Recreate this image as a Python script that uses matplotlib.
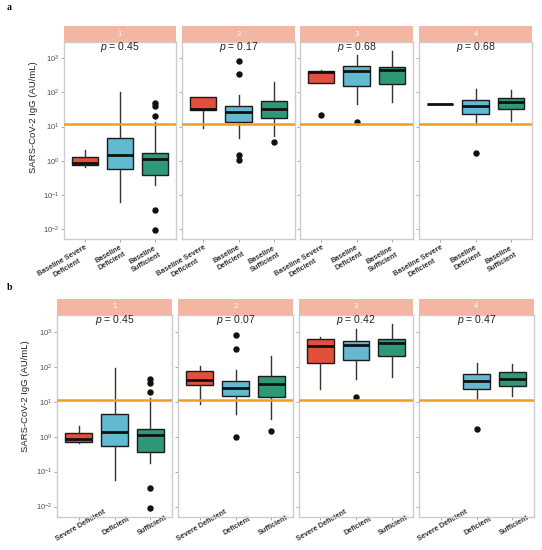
import matplotlib
matplotlib.use("Agg")
import matplotlib.pyplot as plt
from matplotlib.ticker import LogLocator, LogFormatterSciNotation, NullLocator

plt.rcParams["font.family"] = ["Liberation Sans", "DejaVu Sans"]
plt.rcParams["mathtext.fontset"] = "custom"
plt.rcParams["mathtext.rm"] = "Liberation Sans"
plt.rcParams["mathtext.it"] = "Liberation Sans:italic"
plt.rcParams["mathtext.bf"] = "Liberation Sans:bold"

# ---------------- data ----------------
facets = ["1", "2", "3", "4"]
groups_a = ["Baseline Severe\nDeficient", "Baseline\nDeficient", "Baseline\nSufficient"]
groups_b = ["Severe Deficient", "Deficient", "Sufficient"]
p_a = ["0.45", "0.17", "0.68", "0.68"]
p_b = ["0.45", "0.07", "0.42", "0.47"]
cutoff = 11.5

# panel a stats: [facet][group] -> (whislo, q1, med, q3, whishi)
a_stats = [
    [(0.65, 0.72, 0.85, 1.3, 2.0), (0.062, 0.56, 1.44, 4.6, 100), (0.19, 0.37, 1.15, 1.72, 13.5)],
    [(9.0, 29.6, 32, 72, 76), (4.7, 13.5, 26, 41, 83), (5.1, 18, 33, 58, 205)],
    [(190, 190, 400, 417, 457), (46, 158, 426, 583, 1220), (52, 182, 445, 570, 1640)],
    [(46, 46, 46, 46, 46), (12, 23, 40, 62, 124), (15, 31.6, 52, 71, 121)],
]
a_fliers = [
    [[], [], [48, 40, 20.5, 0.036, 0.0095]],
    [[], [860, 345, 1.5, 1.02], [3.4]],
    [[22.5], [13.7], []],
    [[], [1.63], []],
]
# panel b stats
b_stats = [
    [(0.66, 0.70, 0.84, 1.27, 2.0), (0.059, 0.54, 1.38, 4.35, 95), (0.18, 0.36, 1.13, 1.65, 12.8)],
    [(8.8, 29.5, 43, 74.5, 106), (4.35, 14.6, 25, 38.5, 80), (3.1, 13.7, 31, 53.5, 200)],
    [(22.7, 129, 380, 617, 687), (46, 157, 406, 552, 1166), (51, 205, 473, 630, 1660)],
    [None, (12.2, 23, 40, 62, 124), (14.6, 29, 45, 70, 121)],
]
b_fliers = [
    [[], [], [46, 35, 19, 0.034, 0.009]],
    [[], [800, 316, 0.95], [1.42]],
    [[], [13.7], []],
    [[], [1.6], []],
]

colors = ["#E2503A", "#63B9D0", "#2F9878"]
strip_color = "#F2B6A2"
orange = "#F39C1F"

W, H = 542, 550
fig = plt.figure(figsize=(W / 100, H / 100), dpi=100)


def add_ax(x0, y0, x1, y1):
    return fig.add_axes([x0 / W, 1 - y1 / H, (x1 - x0) / W, (y1 - y0) / H])


rows = [
    dict(xs=[(64, 176), (182, 295), (300, 413), (419, 532)], y=(42, 239), strip=(26, 42),
         stats=a_stats, fliers=a_fliers, groups=groups_a, p=p_a, letter="a", ly=8,
         ha="right", va="top", pad=1.0, labely=0.62),
    dict(xs=[(57, 172), (178, 293), (299, 413), (419, 534)], y=(315, 517), strip=(299, 315),
         stats=b_stats, fliers=b_fliers, groups=groups_b, p=p_b, letter="b", ly=287,
         ha="center", va="top", pad=1.5, labely=0.60),
]

for row in rows:
    for fi, (x0, x1) in enumerate(row["xs"]):
        ax = add_ax(x0, row["y"][0], x1, row["y"][1])
        sax = add_ax(x0, row["strip"][0], x1, row["strip"][1])
        sax.set_xticks([]); sax.set_yticks([])
        sax.set_facecolor(strip_color)
        for s in sax.spines.values():
            s.set_visible(False)
        sax.text(0.5, 0.5, facets[fi], color="white", fontsize=5.5,
                 ha="center", va="center", transform=sax.transAxes)

        bstats, pos, cols = [], [], []
        for gi in range(3):
            st = row["stats"][fi][gi]
            if st is None:
                continue
            lo, q1, med, q3, hi = st
            bstats.append(dict(whislo=lo, q1=q1, med=med, q3=q3, whishi=hi,
                               fliers=row["fliers"][fi][gi]))
            pos.append(gi + 1)
            cols.append(colors[gi])
        bp = ax.bxp(bstats, positions=pos, widths=0.75, patch_artist=True, showcaps=False,
                    boxprops=dict(edgecolor="#1a1a1a", linewidth=1.0),
                    medianprops=dict(color="#111111", linewidth=2.0, solid_capstyle="butt"),
                    whiskerprops=dict(color="#333333", linewidth=1.0),
                    flierprops=dict(marker="o", markerfacecolor="#111111",
                                    markeredgecolor="#111111", markersize=3.6))
        for patch, c in zip(bp["boxes"], cols):
            patch.set_facecolor(c)
        ax.axhline(cutoff, color=orange, linewidth=1.8, zorder=5)

        ax.set_yscale("log")
        ax.set_ylim(10 ** -2.3, 10 ** 3.48)
        ax.set_xlim(0.4, 3.6)
        ax.yaxis.set_major_locator(LogLocator(base=10, numticks=10))
        ax.yaxis.set_minor_locator(NullLocator())
        ax.yaxis.set_major_formatter(LogFormatterSciNotation())
        ax.set_xticks([1, 2, 3])
        ax.set_xticklabels(row["groups"], fontsize=5.2, fontweight="bold", color="#333333")
        for lab in ax.get_xticklabels():
            lab.set_rotation(30)
            lab.set_rotation_mode("anchor")
            lab.set_ha(row["ha"])
            lab.set_va(row["va"])
            lab.set_multialignment("center")
        ax.tick_params(axis="x", length=2.5, width=0.6, color="#999999", pad=row["pad"])
        ax.tick_params(axis="y", length=2.0, width=0.6, color="#999999", pad=1.2,
                       labelsize=5.5, labelcolor="#4D4D4D")
        if fi != 0:
            ax.tick_params(axis="y", labelleft=False)
        else:
            ax.set_ylabel("SARS-CoV-2 IgG (AU/mL)", fontsize=6.8, color="#222222")
            ax.yaxis.set_label_coords(-0.235, row["labely"])
        for s in ax.spines.values():
            s.set_color("#CCCCCC")
            s.set_linewidth(1.0)
        ax.text(0.5, 0.975, r"$p$ = " + row["p"][fi], transform=ax.transAxes,
                ha="center", va="center", fontsize=7.5, color="#222222")

    fig.text(7 / W, 1 - row["ly"] / H, row["letter"], fontsize=7, fontweight="bold",
             family="Liberation Serif", ha="left", va="center")

fig.savefig("out.png", dpi=100)
